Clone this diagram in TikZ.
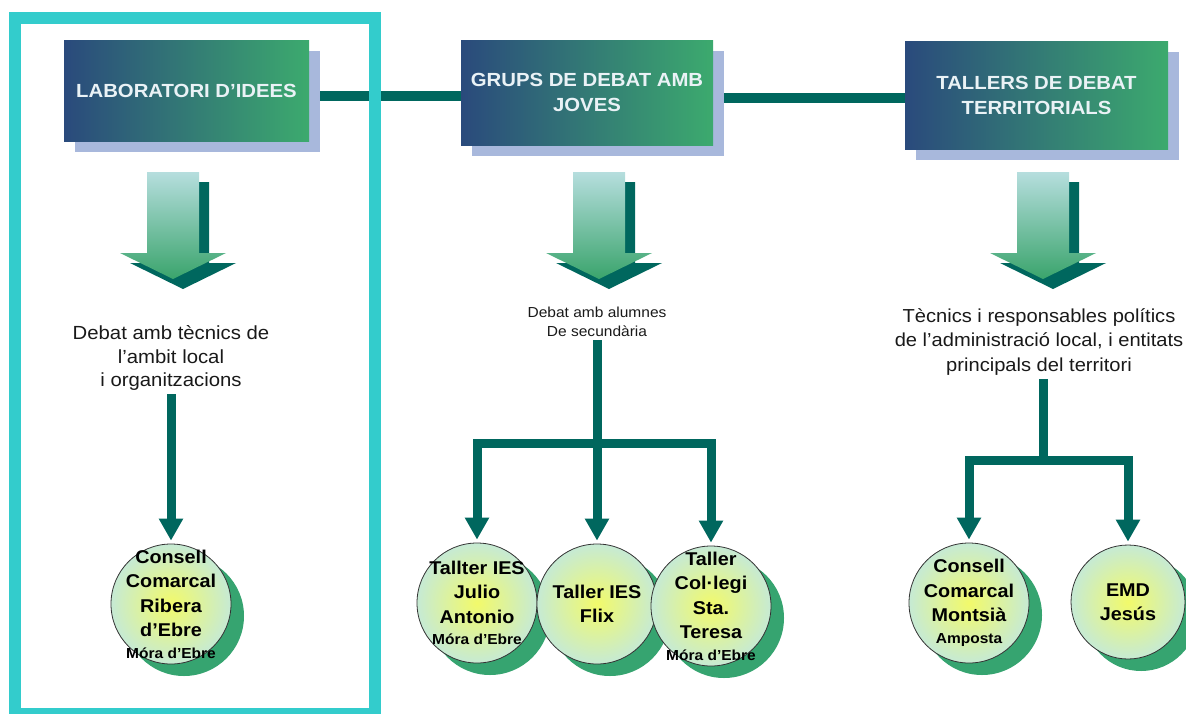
\documentclass[tikz,border=0pt]{standalone}
\usepackage{fontspec}
\setmainfont{Liberation Sans}[FakeStretch=1.07]
\usepackage{tikz}
\usepackage{xcolor}
\usetikzlibrary{
    arrows.meta,
    positioning,
    calc,
    shadows,
    backgrounds
}
\definecolor{boxleft}{HTML}{2A4A7C}
\definecolor{boxright}{HTML}{3CAA6E}
\definecolor{boxshade}{HTML}{A8B8DC}
\definecolor{boxtext}{HTML}{EAF2F6}
\definecolor{linkteal}{HTML}{00675E}
\definecolor{arrowtop}{HTML}{B6DEDE}
\definecolor{arrowbot}{HTML}{3AA46C}
\definecolor{circcore}{HTML}{F2FA6A}
\definecolor{circedge}{HTML}{C6EAD4}
\definecolor{circshade}{HTML}{36A470}
\definecolor{framecyan}{HTML}{33CCCC}
\tikzset{
    % Title box style
    titlebox/.style={
        rectangle,
        minimum width=245pt,
        minimum height=101pt,
        align=center,
        font=\fontsize{19}{25}\selectfont\bfseries,
        text=boxtext,
        left color=boxleft,
        right color=boxright,
        drop shadow={shadow xshift=11pt, shadow yshift=-11pt, fill=boxshade, opacity=1}
    },
    % Venue circle style
    venue/.style={
        circle,
        minimum size=120pt,
        inner sep=0pt,
        draw=black!80,
        line width=0.8pt,
        inner color=circcore,
        outer color=circedge,
        drop shadow={shadow xshift=13pt, shadow yshift=-12pt, fill=circshade, opacity=1}
    },
    % Text inside a venue
    venue text/.style={
        font=\fontsize{18.5}{24.5}\selectfont\bfseries,
        align=center,
        text=black
    },
    % Audience text style
    audience/.style={
        font=\fontsize{19}{23.5}\selectfont,
        align=center,
        text=black!90
    },
    % Connector styles
    bar/.style={draw=linkteal, line width=9pt},
    link/.style={bar, -{Triangle[length=22pt, width=23pt]}, shorten >=3pt},
    bridge/.style={draw=linkteal, line width=10pt},
    % Block arrow under a title box
    bigarrow/.pic={
        \fill[linkteal] (-16,10) -- (36,10) -- (36,91) -- (63,91) -- (10,117) -- (-43,91) -- (-16,91) -- cycle;
        \shade[top color=arrowtop, bottom color=arrowbot] (-26,0) -- (26,0) -- (26,81) -- (53,81) -- (0,107) -- (-53,81) -- (-26,81) -- cycle;
    }
}
\newcommand{\smallplace}[1]{{\fontsize{14.5}{16}\selectfont #1}}
\begin{document}
\begin{tikzpicture}[x=1pt, y=-1pt,
        frame/.style={draw=framecyan, line width=12pt}
    ]
    \useasboundingbox (0,0) rectangle (1186,713);

    % Title boxes
    \node[titlebox] (lab) at (186.5,90.5) {LABORATORI D’IDEES};
    \node[titlebox, minimum width=252pt, minimum height=105pt] (grups) at (587,92.5) {GRUPS DE DEBAT AMB\\JOVES};
    \node[titlebox, minimum width=263pt, minimum height=108pt] (tallers) at (1036.5,95) {TALLERS DE DEBAT\\TERRITORIALS};

    % Links between boxes
    \begin{scope}[on background layer]
        \draw[bridge] ([yshift=-5pt]lab.east) -- ([yshift=-5pt]lab.east -| grups.west);
        \draw[bridge] ([yshift=-5pt]grups.east) -- ([yshift=-5pt]grups.east -| tallers.west);
    \end{scope}

    % Block arrows
    \pic at (173,172) {bigarrow};
    \pic at (599,172) {bigarrow};
    \pic at (1043,172) {bigarrow};

    % Audiences
    \node[audience] (aud1) at (171,358) {Debat amb tècnics de\\l’ambit local\\i organitzacions};
    \node[audience, font=\fontsize{14.5}{19}\selectfont] (aud2) at (597,322) {Debat amb alumnes\\De secundària};
    \node[audience, font=\fontsize{18.8}{24.5}\selectfont] (aud3) at (1039,342) {Tècnics i responsables polítics\\de l’administració local, i entitats\\principals del territori};

    % Venues
    \node[venue, label={[venue text]center:{Consell\\Comarcal\\Ribera\\d’Ebre\\[-3pt]\smallplace{Móra d’Ebre}}}] (c1) at (171,604) {};
    \node[venue, label={[venue text]center:{Tallter IES\\Julio\\Antonio\\[-3pt]\smallplace{Móra d’Ebre}}}] (c2a) at (477,603) {};
    \node[venue, label={[venue text]center:{Taller IES\\Flix}}] (c2b) at (597,604) {};
    \node[venue, label={[venue text]center:{Taller\\Col·legi\\Sta.\\Teresa\\[-3pt]\smallplace{Móra d’Ebre}}}] (c2c) at (711,606) {};
    \node[venue, label={[venue text]center:{Consell\\Comarcal\\Montsià\\[-3pt]\smallplace{Amposta}}}] (c3a) at (969,603) {};
    \node[venue, minimum size=114pt, label={[venue text]center:{EMD\\Jesús}}] (c3b) at (1128,602) {};

    % Connections
    \coordinate (hub2) at (597,443);
    \coordinate (hub3) at (1043,460);
    \draw[link] (aud1.south) -- (c1.north);
    \draw[bar] (aud2.south) -- (hub2);
    \draw[link] (hub2) -| (c2a.north);
    \draw[link] (hub2) -- (c2b.north);
    \draw[link] (hub2) -| (c2c.north);
    \draw[bar] (aud3.south -| hub3) -- (hub3);
    \draw[link] (hub3) -| (c3a.north);
    \draw[link] (hub3) -| (c3b.north);

    % Highlight frame
    \draw[frame] (15,17.5) rectangle (375,714);
\end{tikzpicture}
\end{document}
